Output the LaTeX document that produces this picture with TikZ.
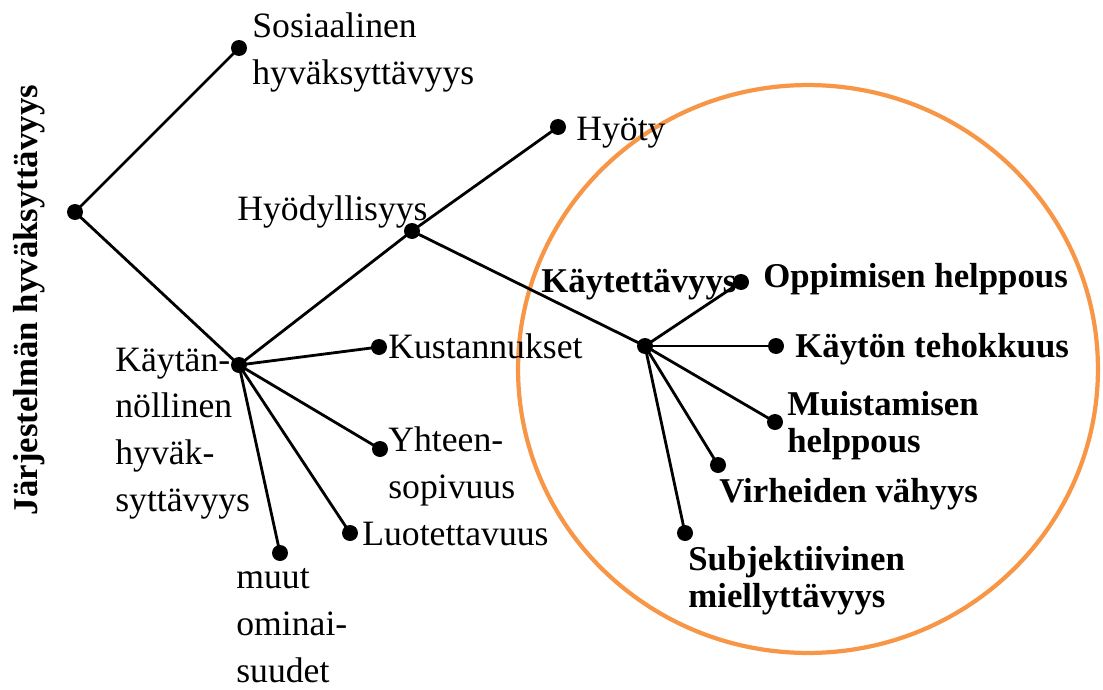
\documentclass[tikz,border=0pt]{standalone}
\usepackage{fontspec}
\setmainfont{Liberation Serif}
\definecolor{ringorange}{RGB}{247,150,70}
\begin{document}
\begin{tikzpicture}[x=0.02cm, y=-0.02cm,
  dot/.style={circle, fill=black, inner sep=0pt, minimum size=0.32cm},
  edge/.style={line width=1.6pt, black},
  lbl/.style={anchor=base west, inner sep=0pt, align=left,
    font=\fontsize{20.3}{26.5}\selectfont},
  blbl/.style={anchor=base west, inner sep=0pt, align=left,
    font=\fontsize{19.8}{21}\selectfont\bfseries}]
\useasboundingbox (0,0) rectangle (1103,690);

% usability ring
\draw[ringorange, line width=2.4pt] (808,369) ellipse [x radius=5.8cm, y radius=5.68cm];

% branching points and leaves
\node[dot] (root)  at (75,212) {};
\node[dot] (sos)   at (239,48) {};
\node[dot] (kay)   at (239,365) {};
\node[dot] (hyod)  at (412,231) {};
\node[dot] (hyoty) at (558,127) {};
\node[dot] (kaytt) at (645,346) {};
\node[dot] (kust)  at (379,347) {};
\node[dot] (yht)   at (380,449) {};
\node[dot] (luot)  at (350,533) {};
\node[dot] (muut)  at (280,553) {};
\node[dot] (opp)   at (741,282) {};
\node[dot] (teho)  at (776,346) {};
\node[dot] (muist) at (775,422) {};
\node[dot] (virh)  at (718,465) {};
\node[dot] (subj)  at (685,533) {};

% tree edges
\draw[edge] (root.center) -- (sos.center);
\draw[edge] (root.center) -- (kay.center);
\draw[edge] (kay.center) -- (hyod.center);
\draw[edge] (hyod.center) -- (hyoty.center);
\draw[edge] (hyod.center) -- (kaytt.center);
\draw[edge] (kay.center) -- (kust.center);
\draw[edge] (kay.center) -- (yht.center);
\draw[edge] (kay.center) -- (luot.center);
\draw[edge] (kay.center) -- (muut.center);
\draw[edge] (kaytt.center) -- (opp.center);
\draw[edge] (kaytt.center) -- (teho.center);
\draw[edge] (kaytt.center) -- (muist.center);
\draw[edge] (kaytt.center) -- (virh.center);
\draw[edge] (kaytt.center) -- (subj.center);

% labels (multi-line labels are placed by the baseline of their last line)
\node[lbl] (tsos) at (252,84) {Sosiaalinen\\hyväksyttävyys};
\node[lbl] (thyod) at (237,220) {Hyödyllisyys};
\node[lbl] (thyoty) at (576,140) {Hyöty};
\node[lbl] (tkust) at (388,358) {Kustannukset};
\node[lbl] (tyht) at (388,498) {Yhteen-\\sopivuus};
\node[lbl] (tluot) at (362,545) {Luotettavuus};
\node[lbl] (tkay) at (115,511) {Käytän-\\nöllinen\\hyväk-\\syttävyys};
\node[lbl] (tmuut) at (236,682) {muut\\ominai-\\suudet};
\node[blbl] (tkaytt) at (541,292) {Käytettävyys};
\node[blbl] (topp) at (763,287) {Oppimisen helppous};
\node[blbl] (tteho) at (795,357) {Käytön tehokkuus};
\node[blbl] (tmuist) at (787,452) {Muistamisen\\helppous};
\node[blbl] (tvirh) at (719,502) {Virheiden vähyys};
\node[blbl] (tsubj) at (688,607) {Subjektiivinen\\miellyttävyys};
\node[blbl, rotate=90, anchor=base] (ttitle) at (37,300) {Järjestelmän hyväksyttävyys};
\end{tikzpicture}
\end{document}
